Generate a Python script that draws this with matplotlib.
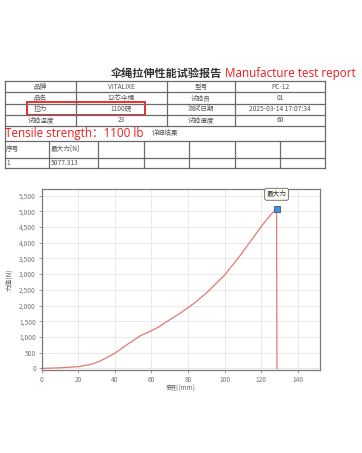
import matplotlib
matplotlib.use('Agg')
import matplotlib.pyplot as plt
from matplotlib.patches import Rectangle

plt.rcParams['font.family'] = ['Noto Sans CJK SC', 'DejaVu Sans']

# report header data
title_cn = '伞绳拉伸性能试验报告'
title_en = 'Manufacture test report'
info_rows = [
    ['品牌', 'VITALIXE', '型号', 'PC-12'],
    ['品名', '12芯伞绳', '试验员', '01'],
    ['拉力', '1100磅', '测试日期', '2025-03-14 17:07:34'],
    ['试验温度', '23', '试验湿度', '60'],
]
tensile_note = 'Tensile strength：1100 lb'
detail_label = '详细结果'
result_header = ['序号', '最大力[N]']
result_row = ['1', '5077.313']

# curve data (deformation mm, force N)
deform = [0, 10, 20, 27, 32, 40, 47, 54, 60, 64, 67, 75.5, 83, 90, 100, 108.5, 116, 121.3, 125, 128.3]
force = [0, 20, 55, 130, 235, 480, 770, 1040, 1200, 1320, 1440, 1750, 2060, 2400, 2975, 3600, 4200, 4620, 4880, 5077.313]
break_x = [128.3, 128.5]
break_y = [5077.313, 0]
peak_x = 128.3
peak_y = 5077.313
x_ticks = [0, 20, 40, 60, 80, 100, 120, 140]
y_ticks = [0, 500, 1000, 1500, 2000, 2500, 3000, 3500, 4000, 4500, 5000, 5500]

W, H = 362, 453
fig = plt.figure(figsize=(W / 100, H / 100), dpi=100)

# overlay in pixel coordinates for the report header
hd = fig.add_axes([0, 0, 1, 1])
hd.set_xlim(0, W)
hd.set_ylim(H, 0)
hd.axis('off')

line_c = '#6a6a6a'
text_c = '#555555'
cell_fs = 4.8

hd.text(166, 73, title_cn, ha='center', va='center', fontsize=8, fontweight='bold', color='#333333')
hd.text(225, 73, title_en, ha='left', va='center', fontsize=8.4, color='#ee1c1c',
        family=['Open Sans', 'DejaVu Sans'])

left, right = 5, 325
rows_y = [81, 92.3, 103.5, 115, 126, 140.5, 158.3, 168.3]
for y in rows_y:
    hd.plot([left, right], [y, y], color=line_c, lw=0.9)
hd.plot([left, left], [rows_y[0], rows_y[-1]], color=line_c, lw=0.9)
hd.plot([right, right], [rows_y[0], rows_y[-1]], color=line_c, lw=0.9)

top_cols = [5, 76, 166.7, 235, 325]
for x in top_cols[1:-1]:
    hd.plot([x, x], [rows_y[0], rows_y[4]], color=line_c, lw=0.9)
bot_cols = [49.3, 97.7, 143.5, 188.5, 235, 280]
for x in bot_cols:
    hd.plot([x, x], [rows_y[5], rows_y[7]], color=line_c, lw=0.9)

for r, row in enumerate(info_rows):
    yc = (rows_y[r] + rows_y[r + 1]) / 2
    for c, txt in enumerate(row):
        xc = (top_cols[c] + top_cols[c + 1]) / 2
        hd.text(xc, yc, txt, ha='center', va='center', fontsize=cell_fs, color=text_c)

hd.add_patch(Rectangle((26.7, 102.3), 118.3, 12.7, fill=False, ec='#e8201f', lw=1.3))

yc = (rows_y[4] + rows_y[5]) / 2
hd.text(5, yc, tensile_note, ha='left', va='center', fontsize=8.4, color='#ee1c1c',
        family=['Open Sans', 'Noto Sans CJK SC'])
hd.text(152, yc, detail_label, ha='left', va='center', fontsize=cell_fs, color=text_c)

yc = (rows_y[5] + rows_y[6]) / 2
hd.text(6, yc, result_header[0], ha='left', va='center', fontsize=cell_fs, color=text_c)
hd.text(51, yc, result_header[1], ha='left', va='center', fontsize=cell_fs, color=text_c)
yc = (rows_y[6] + rows_y[7]) / 2
hd.text(6, yc, result_row[0], ha='left', va='center', fontsize=cell_fs, color=text_c)
hd.text(51, yc, result_row[1], ha='left', va='center', fontsize=cell_fs, color=text_c)

# force-deformation chart
ax = fig.add_axes([41.5 / W, 1 - 370 / H, (320 - 41.5) / W, (370 - 189.3) / H])
ax.plot(deform, force, color='#e07a72', lw=0.9)
ax.plot(break_x, break_y, color='#e07a72', lw=0.9)
ax.plot([peak_x], [peak_y], marker='s', ms=4.5, mfc='#4f8fd6', mec='#2d5a94', mew=0.6)
ax.annotate('最大力', (peak_x, peak_y), xytext=(0, 10.5), textcoords='offset points',
            ha='center', va='center', fontsize=4.8, color='#333333',
            bbox=dict(boxstyle='round,pad=0.3', fc='#fbfbf4', ec='#666666', lw=0.6))

ax.set_xlim(0, 152)
ax.set_ylim(-50, 5700)
ax.set_xticks(x_ticks)
ax.set_yticks(y_ticks)
ax.set_yticklabels([f'{v:,}' for v in y_ticks])
ax.grid(True, color='#e6e6e6', lw=0.6)
ax.set_axisbelow(True)
ax.tick_params(labelsize=4.8, colors='#777777', length=2, width=0.5, pad=2)
for s in ax.spines.values():
    s.set_color('#7a7a7a')
    s.set_linewidth(0.9)
ax.set_xlabel('变形(mm)', fontsize=4.8, color='#666666', labelpad=1)
ax.set_ylabel('力值(N)', fontsize=4.8, color='#666666', labelpad=4)

fig.savefig('out.png', dpi=100)
